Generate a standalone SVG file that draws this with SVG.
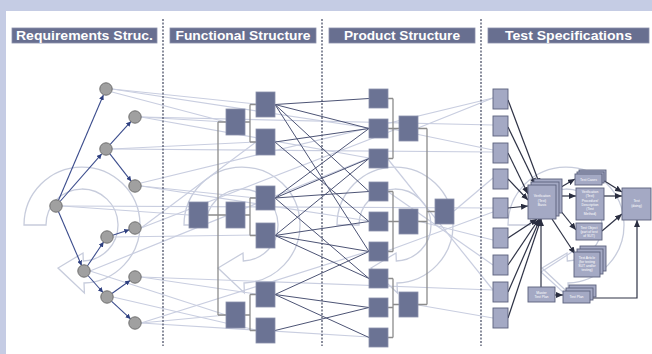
<svg xmlns="http://www.w3.org/2000/svg" width="652" height="354" viewBox="0 0 652 354">
<style>
.hdr{fill:#686f90;stroke:#8a90aa;stroke-width:0.8}
.hdrt{fill:#ffffff;font-family:"Liberation Sans",Arial,sans-serif;font-weight:bold;font-size:13px;text-anchor:middle}
.sep{stroke:#5a5f74;stroke-width:1.4;stroke-dasharray:2 1.5;fill:none}
.faint{stroke:#c9cee0;stroke-width:1.2;fill:none}
.cyc{stroke:#c7ccdc;stroke-width:1.3;fill:none}
.req{fill:#a0a0a0;stroke:#707070;stroke-width:1}
.reqe{stroke:#3b4c8c;stroke-width:1.1;fill:none;marker-end:url(#ah)}
.blk{fill:#6b7394;stroke:#8990ab;stroke-width:0.8}
.brk{stroke:#8c8c8c;stroke-width:1.3;fill:none}
.dk{stroke:#4d5475;stroke-width:1;fill:none}
.tb{fill:#a4a9c4;stroke:#5b617d;stroke-width:0.9}
.ta{stroke:#2e3245;stroke-width:1.2;fill:none;marker-end:url(#ah2)}
.tl{stroke:#2e3245;stroke-width:1.2;fill:none}
.tt{fill:#ffffff;font-family:"Liberation Sans",Arial,sans-serif;font-size:3.4px;text-anchor:middle}
</style>
<defs>
<marker id="ah" markerUnits="userSpaceOnUse" markerWidth="5" markerHeight="5" refX="5" refY="2.5" orient="auto"><path d="M0,0 L5,2.5 L0,5 z" fill="#2e3f7f"/></marker>
<marker id="ah2" markerUnits="userSpaceOnUse" markerWidth="7" markerHeight="6" refX="7" refY="3" orient="auto"><path d="M0,0 L7,3 L0,6 z" fill="#2a2e40"/></marker>
<path id="cy" d="M-58,0 A58,58 0 1 1 2,58 L2.4,68 L-24,43 L1,28 L1.3,36 A36,36 0 1 0 -36,0 Z"/>
</defs>
<rect x="0" y="0" width="652" height="354" fill="#c5cce4"/>
<rect x="6" y="11" width="646" height="343" fill="#ffffff"/>
<g id="cycles">
<use href="#cy" class="cyc" x="82" y="225"/>
<use href="#cy" class="cyc" x="242" y="225"/>
<use href="#cy" class="cyc" x="395" y="225"/>
<use href="#cy" class="cyc" x="566" y="225"/>
</g>
<g id="faint-links" class="faint">
<line x1="112" y1="89" x2="256" y2="104"/>
<line x1="112" y1="89" x2="369" y2="128"/>
<line x1="112" y1="92" x2="226" y2="122"/>
<line x1="141" y1="117" x2="226" y2="122"/>
<line x1="141" y1="117" x2="369" y2="158"/>
<line x1="141" y1="117" x2="493" y2="125"/>
<line x1="112" y1="149" x2="256" y2="142"/>
<line x1="112" y1="149" x2="493" y2="152"/>
<line x1="141" y1="186" x2="256" y2="198"/>
<line x1="141" y1="186" x2="369" y2="221"/>
<line x1="141" y1="183" x2="493" y2="98"/>
<line x1="62" y1="206" x2="189" y2="215"/>
<line x1="62" y1="206" x2="493" y2="208"/>
<line x1="141" y1="228" x2="256" y2="142"/>
<line x1="141" y1="228" x2="399" y2="128"/>
<line x1="113" y1="237" x2="256" y2="235"/>
<line x1="90" y1="271" x2="226" y2="315"/>
<line x1="90" y1="271" x2="369" y2="158"/>
<line x1="141" y1="277" x2="256" y2="294"/>
<line x1="141" y1="277" x2="493" y2="290"/>
<line x1="113" y1="297" x2="256" y2="330"/>
<line x1="141" y1="323" x2="369" y2="337"/>
<line x1="141" y1="323" x2="226" y2="315"/>
<line x1="141" y1="323" x2="369" y2="251"/>
<line x1="418" y1="128" x2="493" y2="98"/>
<line x1="387" y1="128" x2="493" y2="150"/>
<line x1="454" y1="211" x2="493" y2="178"/>
<line x1="418" y1="221" x2="493" y2="240"/>
<line x1="387" y1="191" x2="493" y2="265"/>
<line x1="418" y1="305" x2="493" y2="318"/>
<line x1="387" y1="158" x2="493" y2="290"/>
<line x1="387" y1="251" x2="493" y2="212"/>
<line x1="541" y1="272" x2="575" y2="250"/>
<line x1="541" y1="272" x2="563" y2="292"/>
</g>
<g id="separators">
<line class="sep" x1="163" y1="19" x2="163" y2="346"/>
<line class="sep" x1="322" y1="19" x2="322" y2="346"/>
<line class="sep" x1="481" y1="19" x2="481" y2="346"/>
</g>
<g id="headers">
<g id="h-req"><rect class="hdr" x="12" y="28" width="145" height="15"/><text class="hdrt" x="84.5" y="40" textLength="137" lengthAdjust="spacingAndGlyphs">Requirements Struc.</text></g>
<g id="h-fun"><rect class="hdr" x="170" y="28" width="146" height="15"/><text class="hdrt" x="243" y="40" textLength="135" lengthAdjust="spacingAndGlyphs">Functional Structure</text></g>
<g id="h-pro"><rect class="hdr" x="329" y="28" width="146" height="15"/><text class="hdrt" x="402" y="40" textLength="116" lengthAdjust="spacingAndGlyphs">Product Structure</text></g>
<g id="h-tst"><rect class="hdr" x="488" y="28" width="161" height="15"/><text class="hdrt" x="568.5" y="40" textLength="127" lengthAdjust="spacingAndGlyphs">Test Specifications</text></g>
</g>
<g id="connectors">
<g id="req-edges">
<line class="reqe" x1="58.4" y1="200.5" x2="103.4" y2="95"/>
<line class="reqe" x1="60" y1="201.5" x2="101.7" y2="153.9"/>
<line class="reqe" x1="110" y1="144.6" x2="131" y2="121.4"/>
<line class="reqe" x1="109.7" y1="153.7" x2="131.3" y2="181.3"/>
<line class="reqe" x1="58.4" y1="211.5" x2="81.6" y2="265.5"/>
<line class="reqe" x1="87.4" y1="266" x2="103.6" y2="242"/>
<line class="reqe" x1="112.7" y1="235.2" x2="129.3" y2="229.8"/>
<line class="reqe" x1="88" y1="275.5" x2="103" y2="292.5"/>
<line class="reqe" x1="111.9" y1="293.5" x2="130.1" y2="280.5"/>
<line class="reqe" x1="111.4" y1="301.1" x2="130.6" y2="318.9"/>
</g>
<g id="fun-brackets" class="brk">
<path d="M208,215 H226 M218,122 V315 M218,122 H226 M218,315 H226"/>
<path d="M245,122 H250 M250,104.5 V142 M250,104.5 H256 M250,142 H256"/>
<path d="M245,215 H250 M250,198 V235.5 M250,198 H256 M250,235.5 H256"/>
<path d="M245,315 H250 M250,294.5 V330.5 M250,294.5 H256 M250,330.5 H256"/>
</g>
<g id="pro-brackets" class="brk">
<path d="M388,98.5 H393 M388,158.5 H393 M393,98.5 V158.5 M388,128.5 H399"/>
<path d="M388,191.5 H393 M388,251.5 H393 M393,191.5 V251.5 M388,221.5 H399"/>
<path d="M388,278.5 H393 M388,337.5 H393 M393,278.5 V337.5 M388,307.5 H393 M393,304.5 H399"/>
<path d="M418,128.5 H427 M418,221.5 H427 M418,304.5 H427 M427,128.5 V304.5 M427,211.5 H435"/>
</g>
<g id="fun-pro-links" class="dk">
<line x1="275" y1="104.5" x2="369" y2="98.5"/>
<line x1="275" y1="104.5" x2="369" y2="128.5"/>
<line x1="275" y1="104.5" x2="369" y2="191.5"/>
<line x1="275" y1="104.5" x2="369" y2="251.5"/>
<line x1="275" y1="142" x2="369" y2="128.5"/>
<line x1="275" y1="142" x2="369" y2="221.5"/>
<line x1="275" y1="198" x2="369" y2="128.5"/>
<line x1="275" y1="198" x2="369" y2="158.5"/>
<line x1="275" y1="198" x2="369" y2="191.5"/>
<line x1="275" y1="198" x2="369" y2="278.5"/>
<line x1="275" y1="235.5" x2="369" y2="158.5"/>
<line x1="275" y1="235.5" x2="369" y2="221.5"/>
<line x1="275" y1="235.5" x2="369" y2="251.5"/>
<line x1="275" y1="235.5" x2="369" y2="278.5"/>
<line x1="275" y1="294.5" x2="369" y2="251.5"/>
<line x1="275" y1="294.5" x2="369" y2="307.5"/>
<line x1="275" y1="294.5" x2="369" y2="337.5"/>
<line x1="275" y1="330.5" x2="369" y2="307.5"/>
</g>
<g id="test-links">
<line class="ta" x1="508" y1="100" x2="540" y2="185"/>
<line class="ta" x1="508" y1="127" x2="536" y2="185"/>
<line class="ta" x1="508" y1="153" x2="528" y2="194"/>
<line class="ta" x1="508" y1="179" x2="528" y2="200"/>
<line class="ta" x1="508" y1="208" x2="528" y2="206"/>
<line class="ta" x1="508" y1="238" x2="537" y2="219"/>
<line class="ta" x1="508" y1="265" x2="539" y2="219"/>
<line class="ta" x1="508" y1="292" x2="540" y2="219"/>
<line class="ta" x1="508" y1="318" x2="541" y2="219"/>
<line class="ta" x1="541" y1="287" x2="541" y2="219"/>
<line class="ta" x1="556" y1="190" x2="575" y2="179"/>
<line class="ta" x1="556" y1="196" x2="576" y2="196"/>
<line class="ta" x1="556" y1="205" x2="576" y2="230"/>
<line class="ta" x1="552" y1="219" x2="575" y2="254"/>
<line class="ta" x1="603" y1="180" x2="622" y2="192"/>
<line class="ta" x1="604" y1="196" x2="622" y2="196"/>
<line class="ta" x1="602" y1="231" x2="622" y2="214"/>
<line class="ta" x1="555" y1="295" x2="563" y2="295"/>
<path class="ta" d="M590,298 H637 V220"/>
</g>
</g>
<g id="req-nodes">
<circle id="r1" class="req" cx="106" cy="89" r="6.2"/>
<circle id="r2" class="req" cx="135" cy="117" r="6.2"/>
<circle id="r3" class="req" cx="106" cy="149" r="6.2"/>
<circle id="r4" class="req" cx="135" cy="186" r="6.2"/>
<circle id="r5" class="req" cx="56" cy="206" r="6.2"/>
<circle id="r6" class="req" cx="135" cy="228" r="6.2"/>
<circle id="r7" class="req" cx="107" cy="237" r="6.2"/>
<circle id="r8" class="req" cx="84" cy="271" r="6.2"/>
<circle id="r9" class="req" cx="135" cy="277" r="6.2"/>
<circle id="r10" class="req" cx="107" cy="297" r="6.2"/>
<circle id="r11" class="req" cx="135" cy="323" r="6.2"/>
</g>
<g id="fun-nodes">
<rect id="fa" class="blk" x="189" y="202" width="19" height="26"/>
<rect id="fb1" class="blk" x="226" y="109" width="19" height="26"/>
<rect id="fb2" class="blk" x="226" y="202" width="19" height="26"/>
<rect id="fb3" class="blk" x="226" y="302" width="19" height="26"/>
<rect id="fc1" class="blk" x="256" y="92" width="19" height="25"/>
<rect id="fc2" class="blk" x="256" y="129" width="19" height="26"/>
<rect id="fc3" class="blk" x="256" y="186" width="19" height="24"/>
<rect id="fc4" class="blk" x="256" y="223" width="19" height="25"/>
<rect id="fc5" class="blk" x="256" y="282" width="19" height="25"/>
<rect id="fc6" class="blk" x="256" y="318" width="19" height="25"/>
</g>
<g id="pro-nodes">
<rect id="p1" class="blk" x="369" y="89" width="19" height="19"/>
<rect id="p2" class="blk" x="369" y="119" width="19" height="19"/>
<rect id="p3" class="blk" x="369" y="149" width="19" height="19"/>
<rect id="p4" class="blk" x="369" y="182" width="19" height="19"/>
<rect id="p5" class="blk" x="369" y="212" width="19" height="19"/>
<rect id="p6" class="blk" x="369" y="242" width="19" height="19"/>
<rect id="p7" class="blk" x="369" y="269" width="19" height="19"/>
<rect id="p8" class="blk" x="369" y="298" width="19" height="19"/>
<rect id="p9" class="blk" x="369" y="328" width="19" height="19"/>
<rect id="pm1" class="blk" x="399" y="116" width="19" height="25"/>
<rect id="pm2" class="blk" x="399" y="209" width="19" height="25"/>
<rect id="pm3" class="blk" x="399" y="292" width="19" height="25"/>
<rect id="pt" class="blk" x="435" y="199" width="19" height="25"/>
</g>
<g id="test-inputs">
<rect id="t1" class="tb" x="493" y="89" width="15" height="20"/>
<rect id="t2" class="tb" x="493" y="116" width="15" height="20"/>
<rect id="t3" class="tb" x="493" y="143" width="15" height="20"/>
<rect id="t4" class="tb" x="493" y="169" width="15" height="20"/>
<rect id="t5" class="tb" x="493" y="198" width="15" height="20"/>
<rect id="t6" class="tb" x="493" y="228" width="15" height="20"/>
<rect id="t7" class="tb" x="493" y="255" width="15" height="20"/>
<rect id="t8" class="tb" x="493" y="282" width="15" height="20"/>
<rect id="t9" class="tb" x="493" y="308" width="15" height="20"/>
</g>
<g id="basis">
<rect class="tb" x="534" y="179" width="28" height="34"/>
<rect class="tb" x="531" y="182" width="28" height="34"/>
<rect class="tb" x="528" y="185" width="28" height="34"/>
<text class="tt" x="542" y="197">Verification</text>
<text class="tt" x="542" y="201.5">(Test)</text>
<text class="tt" x="542" y="206">Basis</text>
</g>
<g id="cases">
<rect class="tb" x="579" y="170" width="27" height="11"/>
<rect class="tb" x="577" y="172" width="27" height="11"/>
<rect class="tb" x="575" y="174" width="27" height="11"/>
<text class="tt" x="588.5" y="180.8">Test Cases</text>
</g>
<g id="procedure">
<rect class="tb" x="576" y="188" width="28" height="32"/>
<text class="tt" x="590" y="193">Verification</text>
<text class="tt" x="590" y="197.3">(Test)</text>
<text class="tt" x="590" y="201.6">Procedure/</text>
<text class="tt" x="590" y="205.9">Description</text>
<text class="tt" x="590" y="210.2">(Test</text>
<text class="tt" x="590" y="214.5">Method)</text>
</g>
<g id="object">
<rect class="tb" x="576" y="223" width="26" height="17"/>
<text class="tt" x="589" y="228.5">Test Object</text>
<text class="tt" x="589" y="232.5">(part of test</text>
<text class="tt" x="589" y="236.5">of SUT)</text>
</g>
<g id="article">
<rect class="tb" x="580" y="246" width="26" height="25"/>
<rect class="tb" x="577" y="249" width="26" height="25"/>
<rect class="tb" x="574" y="252" width="26" height="25"/>
<text class="tt" x="587" y="258.5">Test Article</text>
<text class="tt" x="587" y="262.8">(for testing</text>
<text class="tt" x="587" y="267.1">SUT and/or</text>
<text class="tt" x="587" y="271.4">testing)</text>
</g>
<g id="doing">
<rect class="tb" x="622" y="188" width="29" height="32"/>
<text class="tt" x="636.5" y="202">Test</text>
<text class="tt" x="636.5" y="206.5">(doing)</text>
</g>
<g id="master-plan">
<rect class="tb" x="528" y="287" width="27" height="15"/>
<text class="tt" x="541.5" y="293.5">Master</text>
<text class="tt" x="541.5" y="297.8">Test Plan</text>
</g>
<g id="test-plan">
<rect class="tb" x="569" y="285" width="27" height="12"/>
<rect class="tb" x="566" y="288" width="27" height="12"/>
<rect class="tb" x="563" y="291" width="27" height="12"/>
<text class="tt" x="576.5" y="298.2">Test Plan</text>
</g>
</svg>
